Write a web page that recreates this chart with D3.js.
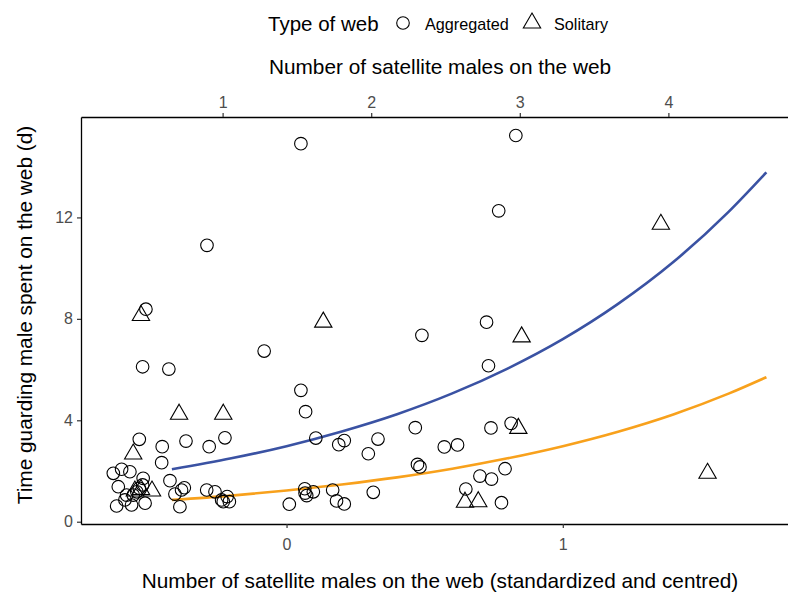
<!DOCTYPE html>
<html>
<head>
<meta charset="utf-8">
<script src="https://cdn.jsdelivr.net/npm/d3@7"></script>
<style>
  body { margin: 0; background: #fff; }
  text { font-family: "Liberation Sans", Arial, sans-serif; }
</style>
</head>
<body>
<div id="chart"></div>
<script>
// aggregated webs (circles): standardized satellite count, days guarding
const aggX = [0.052, 0.830, 0.768, -0.288, -0.509, -0.521, -0.426, -0.081, 0.490, 0.724,
  0.731, 0.052, 0.069, 0.106, 0.189, 0.209, 0.296, 0.331, 0.466, 0.571,
  0.619, 0.740, 0.813, 0.474, 0.483, 0.700, 0.742, 0.791, 0.649, 0.778,
  0.066, 0.073, 0.067, 0.097, 0.167, 0.181, 0.209, 0.314, 0.010, -0.533,
  -0.450, -0.452, -0.364, -0.280, -0.223, -0.422, -0.404, -0.380, -0.370, -0.386,
  -0.289, -0.259, -0.235, -0.215, -0.207, -0.229, -0.627, -0.597, -0.567, -0.609,
  -0.519, -0.615, -0.585, -0.579, -0.561, -0.555, -0.542, -0.512, -0.533, -0.521];
const aggY = [14.91, 15.23, 12.26, 10.90, 8.38, 6.11, 6.02, 6.73, 7.35, 7.87,
  6.15, 5.18, 4.34, 3.30, 3.04, 3.20, 2.68, 3.26, 3.71, 2.95,
  3.03, 3.70, 3.88, 2.26, 2.16, 1.80, 1.68, 2.09, 1.29, 0.75,
  1.30, 1.03, 1.13, 1.18, 1.25, 0.82, 0.70, 1.16, 0.69, 3.25,
  2.96, 2.33, 3.18, 2.96, 3.31, 1.62, 1.09, 1.25, 1.34, 0.59,
  1.25, 1.18, 0.86, 0.99, 0.79, 0.79, 1.91, 2.07, 1.97, 1.38,
  1.71, 0.62, 0.86, 1.05, 0.66, 1.05, 1.18, 0.73, 1.32, 1.45];

// solitary webs (triangles)
const solX = [-0.527, 0.133, 0.851, 1.355, 1.524, -0.389, -0.229, -0.555, 0.839, 0.646,
  0.694, -0.549, -0.527, -0.487];
const solY = [8.13, 7.87, 7.29, 11.73, 1.91, 4.24, 4.24, 2.67, 3.68, 0.77,
  0.79, 1.21, 1.27, 1.21];

// fitted curves
const fitX = [-0.415, -0.2, 0, 0.2, 0.4, 0.6, 0.8, 1.0, 1.2, 1.4, 1.6, 1.737];
const fitSolitary = [2.07, 2.50, 2.98, 3.56, 4.24, 5.06, 6.04, 7.20, 8.59, 10.24, 12.22, 13.78];
const fitAggregated = [0.86, 1.03, 1.23, 1.47, 1.75, 2.09, 2.50, 2.98, 3.55, 4.23, 5.05, 5.70];

const bottomTicks = [0, 1];
const topTicks = [1, 2, 3, 4];
const yTicks = [0, 4, 8, 12];

const W = 788, H = 596;
const pLeft = 81, pRight = 799, pTop = 117, pBottom = 524;

const svg = d3.select("#chart").append("svg")
  .attr("width", W).attr("height", H);

const x = d3.scaleLinear().domain([-0.744, 1.855]).range([pLeft, pRight]);
const xTop = d3.scaleLinear().domain([0.047, 4.879]).range([pLeft, pRight]);
const y = d3.scaleLinear().domain([-0.09, 15.96]).range([pBottom, pTop]);

const fmt = d3.format("d");

// axes
const gb = svg.append("g").attr("transform", `translate(0,${pBottom})`)
  .call(d3.axisBottom(x).tickValues(bottomTicks).tickFormat(fmt).tickSize(4).tickPadding(11).tickSizeOuter(0));
const gt = svg.append("g").attr("transform", `translate(0,${pTop})`)
  .call(d3.axisTop(xTop).tickValues(topTicks).tickFormat(fmt).tickSize(4).tickPadding(5).tickSizeOuter(0));
const gl = svg.append("g").attr("transform", `translate(${pLeft},0)`)
  .call(d3.axisLeft(y).tickValues(yTicks).tickFormat(fmt).tickSize(4).tickPadding(4).tickSizeOuter(0));

[gb, gt, gl].forEach(g => {
  g.select(".domain").attr("stroke", "#000").attr("stroke-width", 1.3);
  g.selectAll(".tick line").attr("stroke", "#333").attr("stroke-width", 1.2);
  g.selectAll(".tick text").attr("fill", "#4d4d4d").style("font-size", "16px")
   .style("font-family", "Liberation Sans, Arial, sans-serif");
});

// fitted lines
const line = d3.line().x(d => x(d[0])).y(d => y(d[1])).curve(d3.curveMonotoneX);
svg.append("path").datum(fitX.map((v, i) => [v, fitSolitary[i]]))
  .attr("d", line).attr("fill", "none").attr("stroke", "#3A52A3").attr("stroke-width", 2.6);
svg.append("path").datum(fitX.map((v, i) => [v, fitAggregated[i]]))
  .attr("d", line).attr("fill", "none").attr("stroke", "#F8A11C").attr("stroke-width", 2.6);

// points
svg.append("g").selectAll("circle")
  .data(aggX.map((v, i) => [v, aggY[i]]))
  .join("circle")
  .attr("cx", d => x(d[0])).attr("cy", d => y(d[1])).attr("r", 6.3)
  .attr("fill", "none").attr("stroke", "#000").attr("stroke-width", 1.1);

const tri = d3.symbol().type(d3.symbolTriangle).size(130);
svg.append("g").selectAll("path")
  .data(solX.map((v, i) => [v, solY[i]]))
  .join("path")
  .attr("d", tri)
  .attr("transform", d => `translate(${x(d[0])},${y(d[1])})`)
  .attr("fill", "none").attr("stroke", "#000").attr("stroke-width", 1.1);

// titles
svg.append("text").attr("x", 440).attr("y", 588).attr("text-anchor", "middle")
  .style("font-size", "20.8px").text("Number of satellite males on the web (standardized and centred)");
svg.append("text").attr("x", 440).attr("y", 74).attr("text-anchor", "middle")
  .style("font-size", "20.8px").text("Number of satellite males on the web");
svg.append("text").attr("transform", "translate(32,315) rotate(-90)").attr("text-anchor", "middle")
  .style("font-size", "20.8px").text("Time guarding male spent on the web (d)");

// legend
const leg = svg.append("g");
leg.append("text").attr("x", 268).attr("y", 31).style("font-size", "20.5px").text("Type of web");
leg.append("circle").attr("cx", 403).attr("cy", 23).attr("r", 6.3)
  .attr("fill", "none").attr("stroke", "#000").attr("stroke-width", 1.1);
leg.append("text").attr("x", 425).attr("y", 29.5).style("font-size", "16.2px").text("Aggregated");
leg.append("path").attr("d", tri).attr("transform", "translate(532,23)")
  .attr("fill", "none").attr("stroke", "#000").attr("stroke-width", 1.1);
leg.append("text").attr("x", 554).attr("y", 29.5).style("font-size", "16.2px").text("Solitary");
</script>
</body>
</html>
